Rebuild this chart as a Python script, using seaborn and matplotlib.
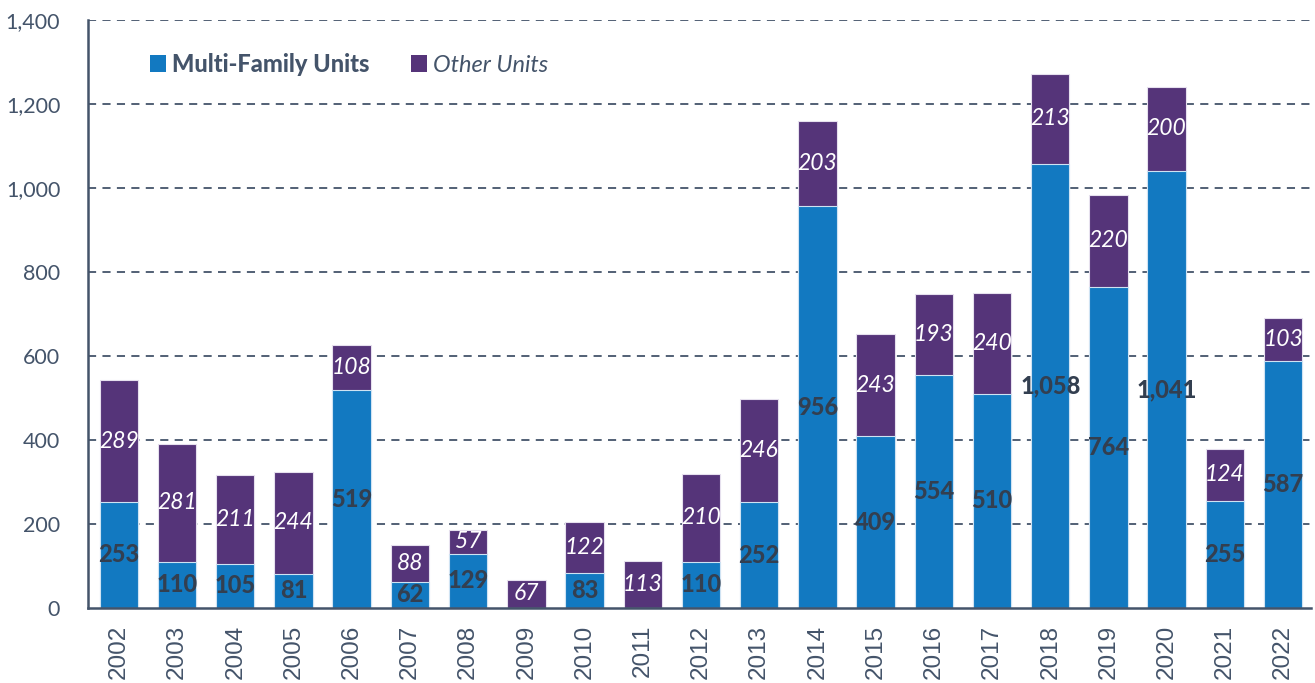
import matplotlib
matplotlib.use("Agg")
import matplotlib.pyplot as plt
import seaborn as sns
import pandas as pd
from matplotlib.patches import Patch

years = [str(y) for y in range(2002, 2023)]
multi_family = [253, 110, 105, 81, 519, 62, 129, 0, 83, 0, 110, 252, 956, 409, 554, 510, 1058, 764, 1041, 255, 587]
other_units = [289, 281, 211, 244, 108, 88, 57, 67, 122, 113, 210, 246, 203, 243, 193, 240, 213, 220, 200, 124, 103]
y_ticks = [0, 200, 400, 600, 800, 1000, 1200, 1400]

BLUE = "#1279C1"
PURPLE = "#553479"
AXIS = "#44546A"
LABEL_DARK = "#333F50"

sns.set_theme(style="white")
plt.rcParams["font.family"] = ["Lato", "DejaVu Sans"]

df = pd.DataFrame({"year": years, "multi": multi_family, "other": other_units})
df["total"] = df["multi"] + df["other"]

fig = plt.figure(figsize=(13.15, 6.83), dpi=100)
ax = fig.add_axes([0.0669, 0.1098, 0.9301, 0.8609])

sns.barplot(data=df, x="year", y="total", color=PURPLE, saturation=1, width=0.66,
            edgecolor="#E6E0EE", linewidth=0.8, ax=ax)
sns.barplot(data=df, x="year", y="multi", color=BLUE, saturation=1, width=0.66,
            edgecolor="#CFE3F3", linewidth=0.8, ax=ax)

ax.set_ylim(0, 1400)
ax.set_xlim(-0.53, 20.48)
ax.set_yticks(y_ticks)
ax.set_yticklabels([f"{v:,}" for v in y_ticks])
ax.set_xticks(range(len(years)))
ax.set_xticklabels(years, rotation=90, fontsize=17.5, color=AXIS,
                   fontfamily=["Liberation Sans", "DejaVu Sans"])
ax.set_xlabel("")
ax.set_ylabel("")
ax.tick_params(axis="y", length=0, labelsize=15.5, labelcolor=AXIS, pad=20)
ax.tick_params(axis="x", length=0, pad=12)

for y in y_ticks[1:]:
    ax.axhline(y, color=AXIS, linestyle=(0, (4.5, 3.5)), linewidth=1.3, zorder=0.5)

for s in ["top", "right"]:
    ax.spines[s].set_visible(False)
for s in ["left", "bottom"]:
    ax.spines[s].set_color(AXIS)
    ax.spines[s].set_linewidth(1.8)

for i, (m, o) in enumerate(zip(multi_family, other_units)):
    if m > 0:
        ax.text(i, m / 2, f"{m:,}", ha="center", va="center", fontsize=17,
                fontweight=900, color=LABEL_DARK, zorder=5)
    if o > 0:
        ax.text(i, m + o / 2, f"{o:,}", ha="center", va="center", fontsize=16.5,
                fontstyle="italic", color="white", zorder=5)

handles = [Patch(facecolor=BLUE, edgecolor="none", label="Multi-Family Units"),
           Patch(facecolor=PURPLE, edgecolor="none", label="Other Units")]
leg = ax.legend(handles=handles, loc="center left", bbox_to_anchor=(0.033, 0.925),
                ncol=2, frameon=False, handlelength=0.7, handleheight=0.7,
                handletextpad=0.25, columnspacing=1.75, fontsize=17)
texts = leg.get_texts()
texts[0].set_fontweight(900)
texts[1].set_fontstyle("italic")
for t in texts:
    t.set_color(AXIS)

fig.savefig("out.png", dpi=100)
